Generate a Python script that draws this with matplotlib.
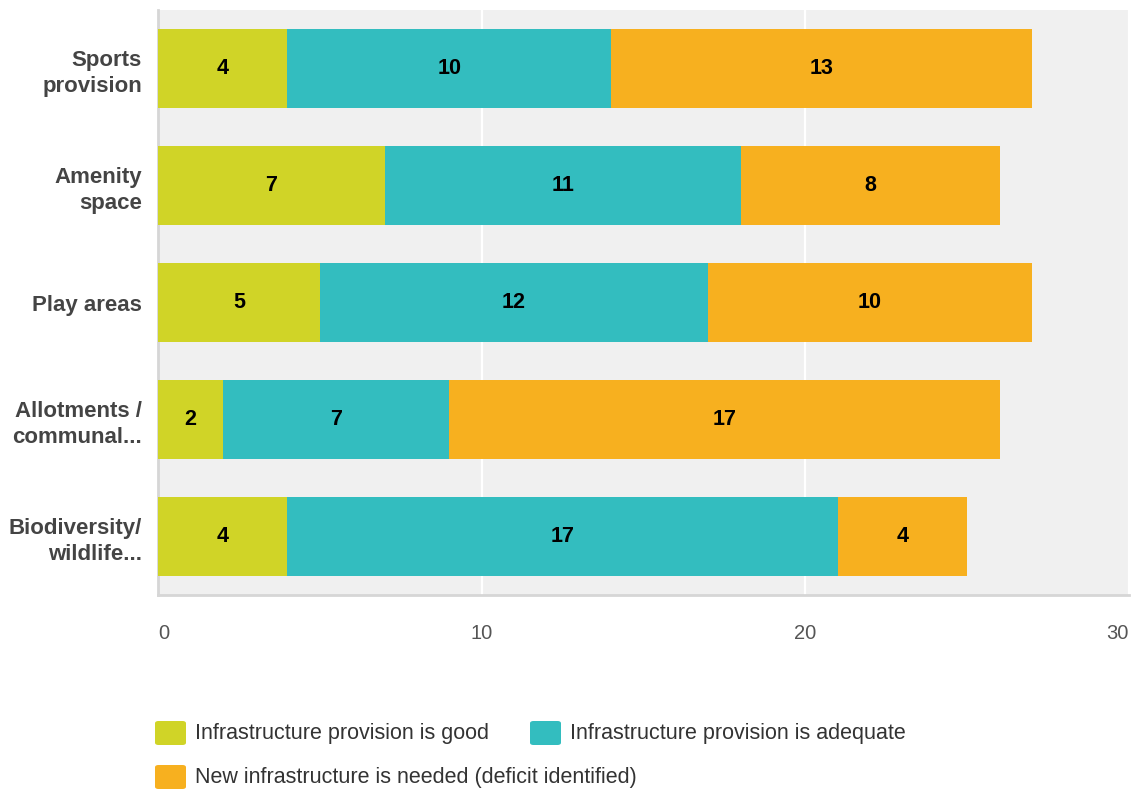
import matplotlib
matplotlib.use("Agg")
import matplotlib.pyplot as plt
from matplotlib.patches import FancyBboxPatch
import numpy as np

categories = ["Sports\nprovision", "Amenity\nspace", "Play areas", "Allotments /\ncommunal...", "Biodiversity/\nwildlife..."]
good = [4, 7, 5, 2, 4]
adequate = [10, 11, 12, 7, 17]
needed = [13, 8, 10, 17, 4]
series_names = ["Infrastructure provision is good", "Infrastructure provision is adequate",
                "New infrastructure is needed (deficit identified)"]
colors = ["#d0d427", "#33bdbf", "#f7b01f"]
xticks = [0, 10, 20, 30]

plt.rcParams['font.family'] = ['Liberation Sans', 'DejaVu Sans']

fig = plt.figure(figsize=(11.36, 7.91), dpi=100)
ax = fig.add_axes([158/1136, 1-595/791, (1129-158)/1136, (595-10)/791])
ax.set_facecolor("#f0f0f0")

y = np.arange(len(categories))
left = np.zeros(len(categories))
for vals, col in zip([good, adequate, needed], colors):
    vals = np.array(vals)
    ax.barh(y, vals, left=left, height=0.667, color=col, zorder=3)
    for yi, l, v in zip(y, left, vals):
        ax.text(l + v/2, yi, str(v), ha="center", va="center", fontsize=15.5,
                fontweight="bold", color="black", zorder=4)
    left = left + vals

ax.set_xlim(0, 30)
ax.set_ylim(len(categories)-0.5, -0.5)
ax.set_yticks(y)
ax.set_yticklabels(categories, fontsize=16, fontweight="bold", color="#444444",
                   ha="right", linespacing=1.3)
ax.tick_params(axis="y", length=0, pad=11.5)
ax.set_xticks(xticks)
ax.set_xticklabels([str(t) for t in xticks], fontsize=14.5, color="#555555")
ax.tick_params(axis="x", length=0, pad=21)
labs = ax.get_xticklabels()
labs[0].set_ha("left")
labs[-1].set_ha("right")
for s in ["top", "right"]:
    ax.spines[s].set_visible(False)
for s in ["left", "bottom"]:
    ax.spines[s].set_color("#d6d6d6")
    ax.spines[s].set_linewidth(2)
ax.xaxis.grid(True, color="white", linewidth=1.6, zorder=1)
ax.set_axisbelow(True)

# legend (manual layout)
legend_pos = [(155, 733), (530, 733), (155, 777)]
for (px, py), name, col in zip(legend_pos, series_names, colors):
    fx, fy = px/1136, 1-py/791
    w, h = 31/1136, 24/791
    fig.patches.append(FancyBboxPatch((fx, fy - h/2), w, h, boxstyle="round,pad=0,rounding_size=0.003",
                                      transform=fig.transFigure, facecolor=col, edgecolor="none"))
    fig.text(fx + 40/1136, fy, name, ha="left", va="center", fontsize=15.5, color="#333333")

fig.savefig("out.png", dpi=100)
